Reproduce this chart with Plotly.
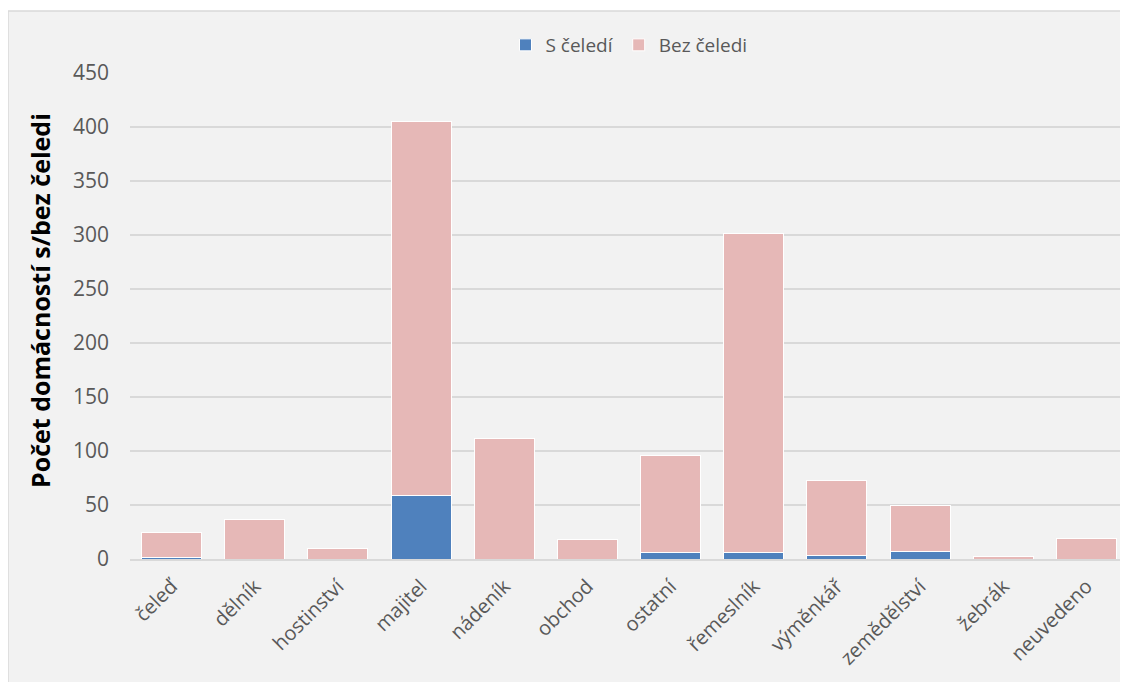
import plotly.graph_objects as go

categories = ["čeleď", "dělník", "hostinství", "majitel", "nádeník", "obchod",
              "ostatní", "řemeslník", "výměnkář", "zemědělství", "žebrák", "neuvedeno"]
s_celedi = [1, 0, 0, 59, 0, 0, 6, 6, 3, 7, 0, 0]
bez_celedi = [24, 37, 10, 346, 112, 18, 90, 295, 70, 43, 2, 19]

# page body has an 8px margin, so the figure is laid out 8px smaller
W, H = 1120, 674
ml, mr, mt, mb = 122, 0, 65, 123
ph = H - mt - mb
pw = W - ml - mr


def px_x(x):
    return (x - ml) / pw


def px_y(y):
    return (H - mb - y) / ph


fig = go.Figure()
fig.add_trace(go.Bar(x=categories, y=s_celedi, name="S čeledí",
                     marker=dict(color="#4f81bd", line=dict(color="white", width=1))))
fig.add_trace(go.Bar(x=categories, y=bez_celedi, name="Bez čeledi",
                     marker=dict(color="#e6b8b7", line=dict(color="white", width=1))))

fig.update_layout(
    width=W, height=H,
    barmode="stack", bargap=0.28,
    margin=dict(l=ml, r=mr, t=mt, b=mb),
    paper_bgcolor="white", plot_bgcolor="white",
    font=dict(family="Open Sans", size=16, color="#595959"),
    legend=dict(orientation="h", x=0.5, xanchor="center", y=px_y(37), yanchor="middle",
                font=dict(size=19, color="#595959"), bgcolor="rgba(0,0,0,0)",
                traceorder="normal", itemwidth=30),
    showlegend=True,
    shapes=[dict(type="rect", xref="paper", yref="paper",
                 x0=px_x(0), x1=1.01, y0=px_y(H + 5), y1=px_y(3),
                 fillcolor="#f2f2f2", line=dict(color="#d9d9d9", width=1.5),
                 layer="below")],
    annotations=[dict(text="<b>Počet domácností s/bez čeledi</b>", textangle=-90,
                      xref="paper", yref="paper", x=px_x(32), y=px_y(293),
                      xanchor="center", yanchor="middle", showarrow=False,
                      font=dict(size=25, color="black", family="Open Sans"))],
)
fig.update_xaxes(tickangle=-45, showgrid=False, showline=True, linecolor="#d9d9d9",
                 linewidth=1.5, ticks="", ticklabelstandoff=6,
                 tickfont=dict(size=20, color="#595959"))
fig.update_yaxes(range=[0, 450], dtick=50, showgrid=True, gridcolor="#d9d9d9",
                 gridwidth=1.5, zeroline=False, ticks="", ticklabelstandoff=20,
                 tickfont=dict(size=21, color="#595959"))

fig.write_html("out.html")
